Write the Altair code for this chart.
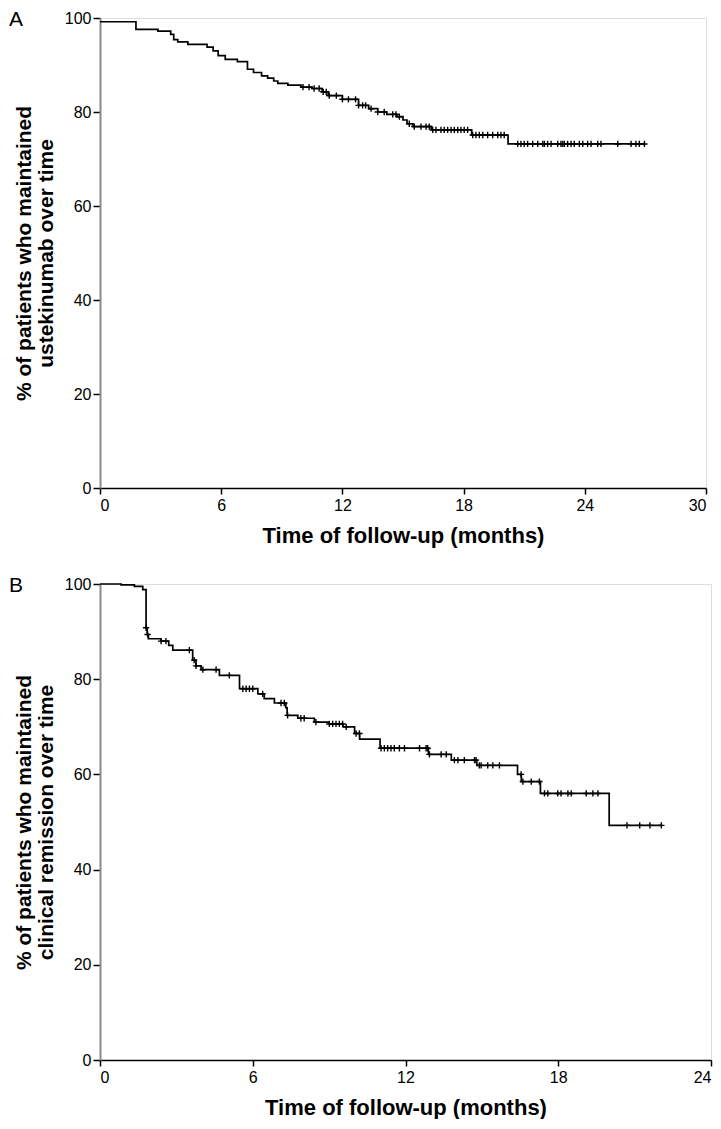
import bisect
import altair as alt
import pandas as pd

FONT = "Liberation Sans"

# ---------------- Panel A: ustekinumab persistence ----------------
a_time = [0, 1.78, 2.87, 3.5, 3.65, 3.85, 4.35, 5.3, 5.6, 5.85, 6.2, 6.8, 7.3, 7.6, 8.0,
          8.3, 8.6, 8.8, 9.3, 9.95, 10.5, 11.0, 11.3, 12.0, 12.8, 13.3, 13.75, 14.2,
          14.7, 15.0, 15.2, 15.5, 16.4, 18.4, 20.2]
a_surv = [99.2, 97.6, 97.2, 96.5, 95.4, 94.9, 94.4, 93.8, 93.0, 92.0, 91.2, 90.7, 89.1,
          88.4, 87.7, 87.2, 86.6, 86.1, 85.7, 85.3, 85.0, 84.3, 83.5, 82.7, 81.4, 80.7,
          80.0, 79.5, 79.0, 78.3, 77.5, 76.9, 76.2, 75.1, 73.2]
a_end = 26.95
a_censor = [10.05, 10.35, 10.6, 10.85, 11.05, 11.2, 11.35, 11.7, 12.0, 12.3, 12.65, 12.8,
            13.0, 13.15, 13.42, 13.75, 14.07, 14.49, 14.65, 14.82, 15.31, 15.56, 15.89,
            16.14, 16.30, 16.47, 16.63, 16.88, 17.04, 17.21, 17.38, 17.54, 17.71, 17.87,
            18.03, 18.20, 18.45, 18.61, 18.78, 18.95, 19.19, 19.44, 19.69, 19.85, 20.01,
            20.68, 20.84, 21.00, 21.17, 21.42, 21.67, 21.92, 22.00, 22.16, 22.33, 22.66,
            22.82, 22.91, 22.99, 23.15, 23.32, 23.48, 23.73, 23.90, 24.14, 24.31, 24.64,
            24.80, 25.63, 26.29, 26.53, 26.70, 26.95]
a_xticks = [0, 6, 12, 18, 24, 30]

# ---------------- Panel B: clinical remission ----------------
b_time = [0, 0.83, 1.35, 1.68, 1.81, 1.85, 1.9, 2.4, 2.7, 2.86, 3.64, 3.77, 3.97, 4.69,
          5.48, 6.2, 6.45, 6.85, 7.3, 7.35, 7.77, 8.42, 9.0, 9.55, 10.0, 10.2, 11.0,
          12.9, 13.8, 14.8, 16.4, 16.55, 17.3, 20.0]
b_surv = [100.0, 99.8, 99.5, 98.8, 90.8, 89.4, 88.5, 88.0, 87.1, 86.1, 84.0, 82.8, 82.0,
          80.8, 78.0, 76.9, 75.9, 75.0, 74.0, 72.4, 71.8, 71.0, 70.6, 70.0, 68.6, 67.4,
          65.5, 64.2, 63.0, 61.9, 60.0, 58.5, 56.0, 49.3]
b_end = 22.05
b_censor = [1.81, 1.87, 2.40, 2.59, 3.51, 3.70, 3.77, 4.04, 4.56, 5.08, 5.61, 5.74, 5.87,
            6.00, 6.39, 7.11, 7.24, 7.37, 7.89, 8.02, 8.48, 9.01, 9.14, 9.27, 9.40, 9.53,
            9.67, 10.06, 10.19, 11.04, 11.17, 11.30, 11.43, 11.56, 11.76, 11.96, 12.55,
            12.81, 12.87, 12.94, 13.40, 13.60, 13.92, 14.06, 14.31, 14.71, 14.77, 14.90,
            14.97, 15.23, 15.43, 15.69, 16.54, 16.61, 16.94, 17.26, 17.46, 17.59, 17.98,
            18.11, 18.38, 18.51, 19.10, 19.36, 19.56, 20.7, 21.2, 21.6, 22.05]
b_xticks = [0, 6, 12, 18, 24]

y_ticks = [0, 20, 40, 60, 80, 100]
x_title = "Time of follow-up (months)"
a_ytitle = ["% of patients who maintained", "ustekinumab over time"]
b_ytitle = ["% of patients who maintained", "clinical remission over time"]


def step_frame(times, surv, end):
    return pd.DataFrame({"t": times + [end], "s": surv + [surv[-1]]})


def censor_frame(times, surv, cens):
    vals = []
    for c in cens:
        i = bisect.bisect_right(times, c) - 1
        vals.append(surv[max(i, 0)])
    return pd.DataFrame({"t": cens, "s": vals})


def panel(label, times, surv, end, cens, xmax, xticks, ytitle, w, h):
    xs = alt.Scale(domain=[0, xmax], nice=False, zero=False)
    ys = alt.Scale(domain=[0, 100], nice=False)
    xax = alt.Axis(values=xticks, title=x_title, grid=False, domainColor="black",
                   domainWidth=1.5, tickColor="black", tickWidth=1.5, tickSize=6,
                   labelPadding=3, labelFont=FONT, labelFontSize=16, labelColor="black",
                   titleFont=FONT, titleFontSize=22, titleFontWeight="bold",
                   titleColor="black", titlePadding=12)
    yax = alt.Axis(values=y_ticks, title=ytitle, grid=False, domainColor="#8a8a8a",
                   domainWidth=2, tickColor="black", tickWidth=1.5, tickSize=7,
                   labelPadding=2, labelFont=FONT, labelFontSize=16, labelColor="black",
                   titleFont=FONT, titleFontSize=21, titleFontWeight="bold",
                   titleColor="black", titlePadding=8, titleLineHeight=22)
    line = alt.Chart(step_frame(times, surv, end)).mark_line(
        interpolate="step-after", color="black", strokeWidth=1.7
    ).encode(x=alt.X("t:Q", scale=xs, axis=xax), y=alt.Y("s:Q", scale=ys, axis=yax))
    pts = alt.Chart(censor_frame(times, surv, cens)).mark_point(
        shape="M-1,0L1,0M0,-1L0,1", size=40, filled=False, color="black", strokeWidth=1.4,
        opacity=1
    ).encode(x=alt.X("t:Q", scale=xs), y=alt.Y("s:Q", scale=ys))
    lab = alt.Chart(pd.DataFrame({"l": [label]})).mark_text(
        align="left", baseline="middle", font=FONT, fontSize=21, color="black"
    ).encode(x=alt.value(-91), y=alt.value(2), text="l:N")
    return alt.layer(line, pts, lab).properties(width=w, height=h)


chart_a = panel("A", a_time, a_surv, a_end, a_censor, 30, a_xticks, a_ytitle, 606, 470)
chart_b = panel("B", b_time, b_surv, b_end, b_censor, 24, b_xticks, b_ytitle, 611, 476)

chart = alt.vconcat(chart_a, chart_b, spacing=27).properties(
    padding=0
).configure_view(stroke=None).configure(background="white")

chart.save("out.html", embed_options={"renderer": "svg", "actions": False})
